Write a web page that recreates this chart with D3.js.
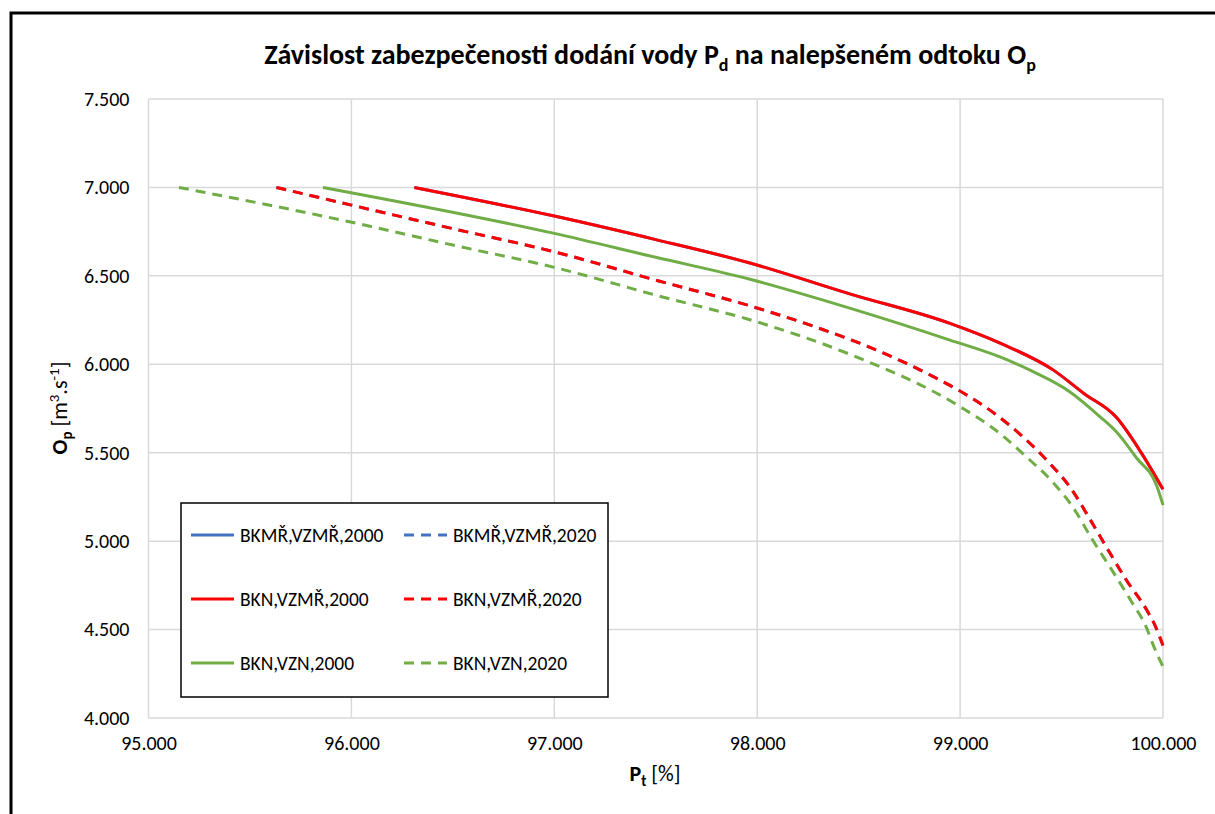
<!DOCTYPE html>
<html>
<head>
<meta charset="utf-8">
<script src="https://cdn.jsdelivr.net/npm/d3@7"></script>
<style>
  html, body { margin: 0; padding: 0; background: #fff; }
  svg { display: block; }
  text { font-family: Carlito, Calibri, Lato, "Open Sans", sans-serif; fill: #000; }
</style>
</head>
<body>
<svg id="chart" width="1215" height="814"></svg>
<script>
// ---- data ----
const xTickValues = [95, 96, 97, 98, 99, 100];
const yTickValues = [4.0, 4.5, 5.0, 5.5, 6.0, 6.5, 7.0, 7.5];

const seriesNames = [
  "BKMŘ,VZMŘ,2000", "BKMŘ,VZMŘ,2020",
  "BKN,VZMŘ,2000",  "BKN,VZMŘ,2020",
  "BKN,VZN,2000",   "BKN,VZN,2020"
];

// Pt [%] and Op [m3/s] pairs for each series
const bkmrVzmr2000 = [[96.31,7.0],[97.0,6.838],[97.5,6.705],[97.96,6.574],[98.46,6.397],[98.95,6.231],[99.2,6.118],[99.46,5.967],[99.61,5.835],[99.77,5.700],[99.89,5.505],[100.0,5.293]];
const bkmrVzmr2020 = [[95.63,7.0],[96.0,6.90],[96.5,6.767],[97.0,6.636],[97.5,6.476],[97.98,6.325],[98.30,6.206],[98.54,6.103],[98.87,5.929],[99.02,5.835],[99.18,5.713],[99.30,5.600],[99.43,5.454],[99.55,5.292],[99.64,5.124],[99.73,4.949],[99.82,4.779],[99.92,4.610],[99.96,4.525],[100.0,4.41]];
const bknVzmr2000  = [[96.31,7.0],[97.0,6.838],[97.5,6.705],[97.96,6.574],[98.46,6.397],[98.95,6.231],[99.2,6.118],[99.46,5.967],[99.61,5.835],[99.77,5.700],[99.89,5.505],[100.0,5.293]];
const bknVzmr2020  = [[95.63,7.0],[96.0,6.90],[96.5,6.767],[97.0,6.636],[97.5,6.476],[97.98,6.325],[98.30,6.206],[98.54,6.103],[98.87,5.929],[99.02,5.835],[99.18,5.713],[99.30,5.600],[99.43,5.454],[99.55,5.292],[99.64,5.124],[99.73,4.949],[99.82,4.779],[99.92,4.610],[99.96,4.525],[100.0,4.41]];
const bknVzn2000   = [[95.86,7.0],[97.0,6.740],[97.5,6.605],[97.96,6.482],[98.46,6.316],[98.95,6.137],[99.2,6.040],[99.36,5.958],[99.54,5.845],[99.69,5.703],[99.77,5.618],[99.87,5.47],[99.97,5.31],[100.0,5.204]];
const bknVzn2020   = [[95.15,7.0],[95.99,6.806],[96.5,6.674],[97.0,6.548],[97.5,6.391],[98.01,6.236],[98.46,6.055],[99.0,5.76],[99.2,5.605],[99.32,5.483],[99.45,5.342],[99.56,5.185],[99.65,5.012],[99.75,4.833],[99.84,4.667],[99.92,4.507],[99.95,4.418],[100.0,4.29]];

const seriesValues = [bkmrVzmr2000, bkmrVzmr2020, bknVzmr2000, bknVzmr2020, bknVzn2000, bknVzn2020];
const seriesColors = ["#4472C4", "#4472C4", "#FF0000", "#FF0000", "#70AD47", "#70AD47"];
const seriesDashed = [false, true, false, true, false, true];

// ---- layout ----
const svg = d3.select("#chart");
const plot = { left: 148.5, right: 1163, top: 99, bottom: 718 };

const x = d3.scaleLinear().domain([95, 100]).range([plot.left, plot.right]);
const y = d3.scaleLinear().domain([4, 7.5]).range([plot.bottom, plot.top]);
const fmt = d3.format(".3f");

// outer frame (extends past the window on right/bottom)
svg.append("rect")
  .attr("x", 11).attr("y", 13)
  .attr("width", 1300).attr("height", 900)
  .attr("fill", "none").attr("stroke", "#000").attr("stroke-width", 3);

// gridlines
svg.append("g")
  .selectAll("line").data(yTickValues).join("line")
  .attr("x1", plot.left).attr("x2", plot.right)
  .attr("y1", d => y(d)).attr("y2", d => y(d))
  .attr("stroke", "#d9d9d9").attr("stroke-width", 1.5);
svg.append("g")
  .selectAll("line").data(xTickValues).join("line")
  .attr("y1", plot.top).attr("y2", plot.bottom)
  .attr("x1", d => x(d)).attr("x2", d => x(d))
  .attr("stroke", "#d9d9d9").attr("stroke-width", 1.5);

// axes (labels via d3 axes)
const yAxis = d3.axisLeft(y).tickValues(yTickValues).tickFormat(fmt).tickSize(0).tickPadding(19);
const xAxis = d3.axisBottom(x).tickValues(xTickValues).tickFormat(fmt).tickSize(0).tickPadding(18);
const gy = svg.append("g").attr("transform", `translate(${plot.left},0)`).call(yAxis);
const gx = svg.append("g").attr("transform", `translate(0,${plot.bottom})`).call(xAxis);
[gx, gy].forEach(g => {
  g.select(".domain").remove();
  g.selectAll("text").style("font-size", "20px").style("font-family", "Carlito, Calibri, Lato, sans-serif").attr("fill", "#000");
});

// series lines
const line = d3.line().x(d => x(d[0])).y(d => y(d[1])).curve(d3.curveMonotoneX);
seriesValues.forEach((vals, i) => {
  svg.append("path")
    .datum(vals)
    .attr("d", line)
    .attr("fill", "none")
    .attr("stroke", seriesColors[i])
    .attr("stroke-width", 3)
    .attr("stroke-dasharray", seriesDashed[i] ? "10,7" : null)
    .attr("stroke-linejoin", "round");
});

// title
const title = svg.append("text")
  .attr("x", 650).attr("y", 64)
  .attr("text-anchor", "middle")
  .style("font-size", "28px").style("font-weight", "bold");
title.append("tspan").text("Závislost zabezpečenosti dodání vody P");
title.append("tspan").attr("dy", 7).style("font-size", "18px").text("d");
title.append("tspan").attr("dy", -7).text(" na nalepšeném odtoku O");
title.append("tspan").attr("dy", 7).style("font-size", "18px").text("p");

// x axis title
const xt = svg.append("text")
  .attr("x", 655).attr("y", 781)
  .attr("text-anchor", "middle")
  .style("font-size", "22px");
xt.append("tspan").style("font-weight", "bold").text("P");
xt.append("tspan").attr("dy", 5).style("font-weight", "bold").style("font-size", "15px").text("t");
xt.append("tspan").attr("dy", -5).text(" [%]");

// y axis title
const yt = svg.append("text")
  .attr("transform", "translate(67,408) rotate(-90)")
  .attr("text-anchor", "middle")
  .style("font-size", "22px");
yt.append("tspan").style("font-weight", "bold").text("O");
yt.append("tspan").attr("dy", 5).style("font-weight", "bold").style("font-size", "15px").text("p");
yt.append("tspan").attr("dy", -5).text(" [m");
yt.append("tspan").attr("dy", -8).style("font-size", "15px").text("3");
yt.append("tspan").attr("dy", 8).text(".s");
yt.append("tspan").attr("dy", -8).style("font-size", "15px").text("-1");
yt.append("tspan").attr("dy", 8).text("]");

// legend
const legend = svg.append("g");
legend.append("rect")
  .attr("x", 181).attr("y", 503).attr("width", 427).attr("height", 194)
  .attr("fill", "#fff").attr("stroke", "#000").attr("stroke-width", 1.5);
const rowY = [535, 599, 663];
const colLineX = [191, 404];
seriesNames.forEach((name, i) => {
  const col = i % 2, row = Math.floor(i / 2);
  const lx = colLineX[col], ly = rowY[row];
  legend.append("line")
    .attr("x1", lx).attr("x2", lx + 43)
    .attr("y1", ly).attr("y2", ly)
    .attr("stroke", seriesColors[i]).attr("stroke-width", 3)
    .attr("stroke-dasharray", seriesDashed[i] ? "10,7" : null);
  legend.append("text")
    .attr("x", lx + 49).attr("y", ly)
    .attr("dominant-baseline", "central")
    .style("font-size", "19.5px")
    .text(name);
});
</script>
</body>
</html>
